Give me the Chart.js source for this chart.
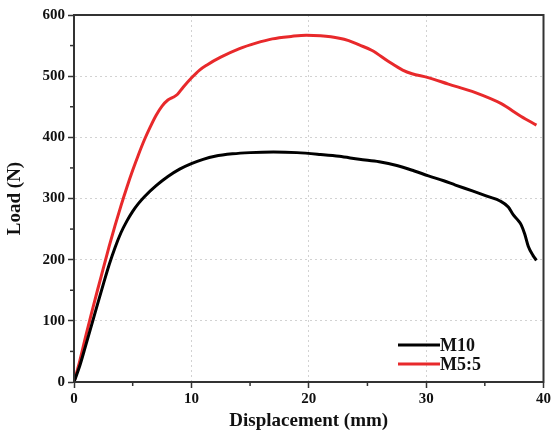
<!DOCTYPE html>
<html>
<head>
<meta charset="utf-8">
<script src="https://cdn.jsdelivr.net/npm/chart.js@4/dist/chart.umd.min.js"></script>
<style>
  html, body { margin: 0; padding: 0; background: #fff; }
  #wrap { width: 553px; height: 436px; }
</style>
</head>
<body>
<div id="wrap"><canvas id="loadChart" width="553" height="436"></canvas></div>
<script>
// Values
const SERIES_NAMES = ["M10", "M5:5"];

const dispM10 = [0, 0.5, 1, 1.6, 2, 2.5, 3, 3.5, 4, 4.5, 5, 5.5, 6, 7, 8, 9, 10, 11, 12, 13.5, 15, 17, 19, 21, 22.6, 24.3, 26, 27.5, 29, 30.2, 31.5, 32.5, 34, 35.3, 36.3, 37, 37.4, 37.8, 38.1, 38.4, 38.7, 39.1, 39.4];
const loadM10 = [0, 27, 60, 100, 127, 160, 192, 220, 244, 263, 279, 292, 303, 321, 336, 348, 357, 364, 369, 373, 375, 376, 375, 372, 369, 364, 360, 354, 345, 337, 329, 322, 312, 303, 296, 286, 274, 265, 257, 242, 222, 207, 199];

const dispM55 = [0, 0.5, 1, 1.5, 2, 2.5, 3, 3.5, 4, 4.5, 5, 5.5, 6, 6.5, 7, 7.5, 8, 8.4, 8.8, 9.3, 10, 10.7, 11.3, 12.5, 14.1, 15.5, 16.9, 18.5, 19.8, 21, 22.6, 23.4, 24.3, 25.4, 26.8, 28, 28.8, 30.1, 31.9, 34.2, 36.4, 38.1, 39.4];
const loadM55 = [0, 35, 75, 113, 150, 186, 222, 256, 288, 318, 346, 372, 396, 417, 436, 451, 461, 465, 470, 482, 497, 510, 518, 531, 545, 554, 561, 565, 567, 566, 562, 558, 551, 542, 524, 510, 504, 498, 487, 473, 455, 434, 420];

const X_MIN = 0, X_MAX = 40, Y_MIN = 0, Y_MAX = 600;

const SERIF = "'Liberation Serif', 'Times New Roman', serif";
const AXIS_COLOR = "#333";
const GRID_COLOR = "#d2d2d2";

function toPoints(xs, ys) {
  return xs.map((x, i) => ({ x: x, y: ys[i] }));
}

// frame on top/right, minor ticks, inner legend
const framePlugin = {
  id: "frame",
  afterDraw(chart) {
    const { ctx, chartArea: a } = chart;
    ctx.save();
    ctx.strokeStyle = AXIS_COLOR;
    ctx.lineWidth = 2;
    ctx.strokeRect(a.left, a.top, a.right - a.left, a.bottom - a.top);

    // minor ticks (short)
    ctx.lineWidth = 1.5;
    const xs = chart.scales.x, ys = chart.scales.y;
    for (let v = 5; v < X_MAX; v += 10) {
      const px = xs.getPixelForValue(v);
      ctx.beginPath(); ctx.moveTo(px, a.bottom); ctx.lineTo(px, a.bottom + 4); ctx.stroke();
    }
    for (let v = 50; v < Y_MAX; v += 100) {
      const py = ys.getPixelForValue(v);
      ctx.beginPath(); ctx.moveTo(a.left, py); ctx.lineTo(a.left - 4, py); ctx.stroke();
    }

    // legend
    const lx = 398, ly = 345, gap = 19;
    ctx.font = "bold 18px " + SERIF;
    ctx.textBaseline = "middle";
    chart.data.datasets.forEach((ds, i) => {
      const y = ly + i * gap;
      ctx.strokeStyle = ds.borderColor;
      ctx.lineWidth = 3;
      ctx.beginPath(); ctx.moveTo(lx, y); ctx.lineTo(lx + 42, y); ctx.stroke();
      ctx.fillStyle = "#111";
      ctx.fillText(ds.label, lx + 42, y + 1);
    });
    ctx.restore();
  }
};

new Chart(document.getElementById("loadChart"), {
  type: "line",
  data: {
    datasets: [
      {
        label: SERIES_NAMES[0],
        data: toPoints(dispM10, loadM10),
        borderColor: "#000000",
        borderWidth: 3,
        pointRadius: 0,
        cubicInterpolationMode: "monotone"
      },
      {
        label: SERIES_NAMES[1],
        data: toPoints(dispM55, loadM55),
        borderColor: "#e8292b",
        borderWidth: 3,
        pointRadius: 0,
        cubicInterpolationMode: "monotone"
      }
    ]
  },
  plugins: [framePlugin],
  options: {
    responsive: false,
    animation: false,
    layout: { padding: { top: 15, right: 8, left: 0, bottom: 0 } },
    plugins: {
      legend: { display: false },
      tooltip: { enabled: false }
    },
    scales: {
      x: {
        type: "linear",
        min: X_MIN,
        max: X_MAX,
        afterFit(s) { s.height = 54; },
        ticks: {
          stepSize: 10,
          color: "#111",
          padding: 2,
          font: { family: SERIF, size: 15, weight: "bold" }
        },
        grid: {
          color: GRID_COLOR,
          lineWidth: 1,
          tickColor: AXIS_COLOR,
          tickLength: 6,
          tickWidth: 1.5
        },
        border: { display: true, color: AXIS_COLOR, width: 2, dash: [2, 3] },
        title: {
          display: true,
          text: "Displacement (mm)",
          color: "#111",
          font: { family: SERIF, size: 19, weight: "bold" },
          padding: { top: 0, bottom: 4 }
        }
      },
      y: {
        type: "linear",
        min: Y_MIN,
        max: Y_MAX,
        afterFit(s) { s.width = 74; },
        ticks: {
          stepSize: 100,
          color: "#111",
          padding: 3,
          font: { family: SERIF, size: 15, weight: "bold" }
        },
        grid: {
          color: GRID_COLOR,
          lineWidth: 1,
          tickColor: AXIS_COLOR,
          tickLength: 6,
          tickWidth: 1.5
        },
        border: { display: true, color: AXIS_COLOR, width: 2, dash: [2, 3] },
        title: {
          display: true,
          text: "Load (N)",
          color: "#111",
          font: { family: SERIF, size: 19, weight: "bold" },
          padding: { top: 4, bottom: 0 }
        }
      }
    }
  }
});
</script>
</body>
</html>
